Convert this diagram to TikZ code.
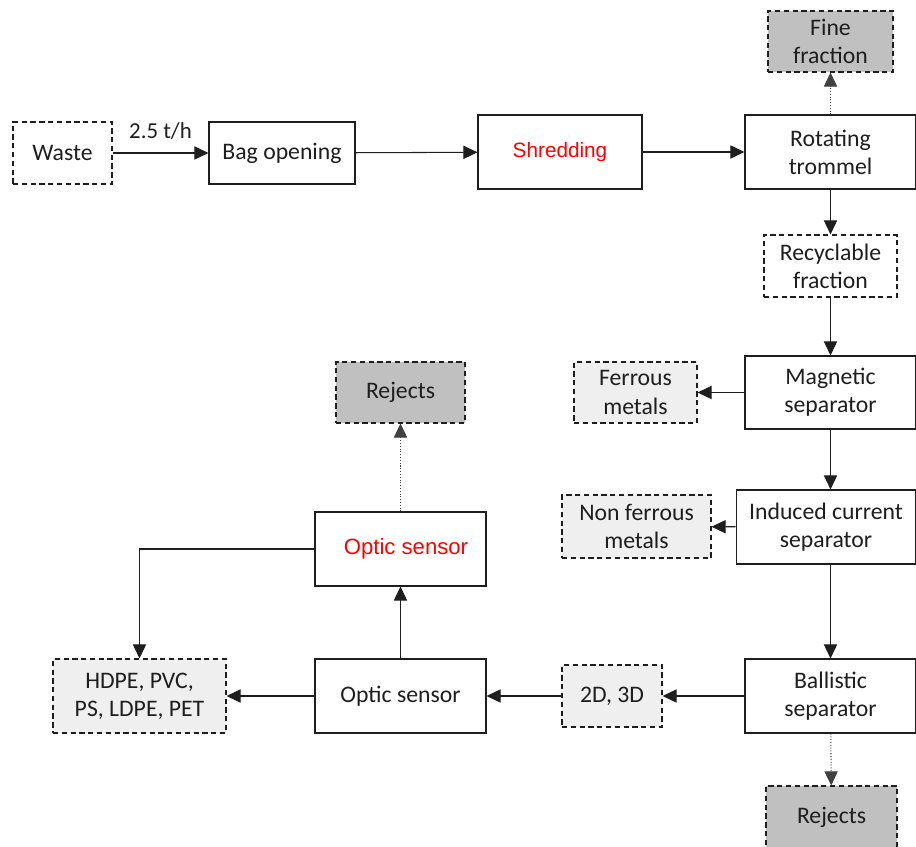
\documentclass[tikz,border=0pt]{standalone}
\usepackage{fontspec}
\setmainfont{Carlito}
\newfontfamily\sensfont{Liberation Sans}
\usepackage{xcolor}
\usetikzlibrary{positioning,calc,arrows.meta}

\definecolor{inkcol}{HTML}{1E1E1E}
\definecolor{outlight}{HTML}{EFEFEF}
\definecolor{outdark}{HTML}{C0C0C0}

\tikzset{
    unit/.style={draw=inkcol, line width=0.6pt, fill=white, align=center, inner sep=0pt,
        text=inkcol, font=\fontsize{13.5}{16}\selectfont},
    prod/.style={unit, dash pattern=on 3pt off 2pt},
    outlt/.style={prod, fill=outlight},
    outdk/.style={prod, fill=outdark},
    flow/.style={draw=inkcol, line width=0.6pt, -{Triangle[length=8pt,width=7.5pt]}},
    side/.style={draw=gray!50!black, line width=0.6pt, densely dotted, -{Triangle[length=8pt,width=7.5pt]}},
    redtxt/.style={text=red, font=\sensfont\fontsize{11.8}{14}\selectfont}
}

\begin{document}
\begin{tikzpicture}[x=0.02cm, y=-0.02cm]
    \useasboundingbox (0,0) rectangle (916,847);

    % top line
    \node[prod, minimum width=1.98cm, minimum height=1.24cm] (waste) at (62.5,153) {Waste};
    \node[unit, minimum width=2.92cm, minimum height=1.24cm] (bag) at (282,153) {Bag opening};
    \node[unit, minimum width=3.28cm, minimum height=1.48cm, redtxt] (shred) at (560,152) {Shredding};
    \node[unit, minimum width=3.42cm, minimum height=1.48cm] (trommel) at (830.5,152) {Rotating\\trommel};
    \node[outdk, minimum width=2.5cm, minimum height=1.22cm] (fine) at (830.5,41.5) {Fine\\fraction};

    % right column
    \node[prod, minimum width=2.66cm, minimum height=1.24cm] (recyc) at (830.5,266) {Recyclable\\fraction};
    \node[unit, minimum width=3.42cm, minimum height=1.46cm] (magnet) at (830.5,392.5) {Magnetic\\separator};
    \node[outlt, minimum width=2.46cm, minimum height=1.22cm] (ferrous) at (635.5,392.5) {Ferrous\\metals};
    \node[unit, minimum width=3.6cm, minimum height=1.48cm] (induced) at (826,527) {Induced current\\separator};
    \node[outlt, minimum width=2.98cm, minimum height=1.26cm] (nonfer) at (636.5,526.5) {Non ferrous\\metals};
    \node[unit, minimum width=3.42cm, minimum height=1.48cm] (ballist) at (830.5,696) {Ballistic\\separator};
    \node[outdk, minimum width=2.62cm, minimum height=1.24cm] (rejbot) at (831.5,817) {Rejects};

    % bottom line
    \node[outlt, minimum width=2.0cm, minimum height=1.24cm] (dim) at (612,696) {2D, 3D};
    \node[unit, minimum width=3.42cm, minimum height=1.48cm] (optic) at (400.5,696) {Optic sensor};
    \node[outlt, minimum width=3.46cm, minimum height=1.48cm] (plast) at (139.5,696) {HDPE, PVC,\\PS, LDPE, PET};
    \node[unit, minimum width=3.42cm, minimum height=1.48cm, redtxt, font=\sensfont\fontsize{12.6}{15}\selectfont] (opticred) at (400.5,549) {\hspace*{0.22cm}Optic sensor};
    \node[outdk, minimum width=2.58cm, minimum height=1.22cm] (rejtop) at (400.5,392.5) {Rejects};

    % flows
    \draw[flow] (waste) -- node[above=4pt, text=inkcol, font=\fontsize{13}{15}\selectfont] (rate) {2.5 t/h} (bag);
    \draw[flow] (bag) -- (shred);
    \draw[flow] (shred) -- (trommel);
    \draw[side] (trommel) -- (fine);
    \draw[flow] (trommel) -- (recyc);
    \draw[flow] (recyc) -- (magnet);
    \draw[flow] (magnet) -- (ferrous);
    \draw[flow] (magnet.south) -- (magnet.south |- induced.north);
    \draw[flow] (induced) -- (nonfer);
    \draw[flow] (magnet.south |- induced.south) -- (ballist.north);
    \draw[side] (ballist) -- (rejbot);
    \draw[flow] (ballist) -- (dim);
    \draw[flow] (dim) -- (optic);
    \draw[flow] (optic) -- (plast);
    \draw[flow] (optic) -- (opticred);
    \draw[side] (opticred) -- (rejtop);
    \draw[flow] (opticred.west) -| (plast.north);
\end{tikzpicture}
\end{document}
